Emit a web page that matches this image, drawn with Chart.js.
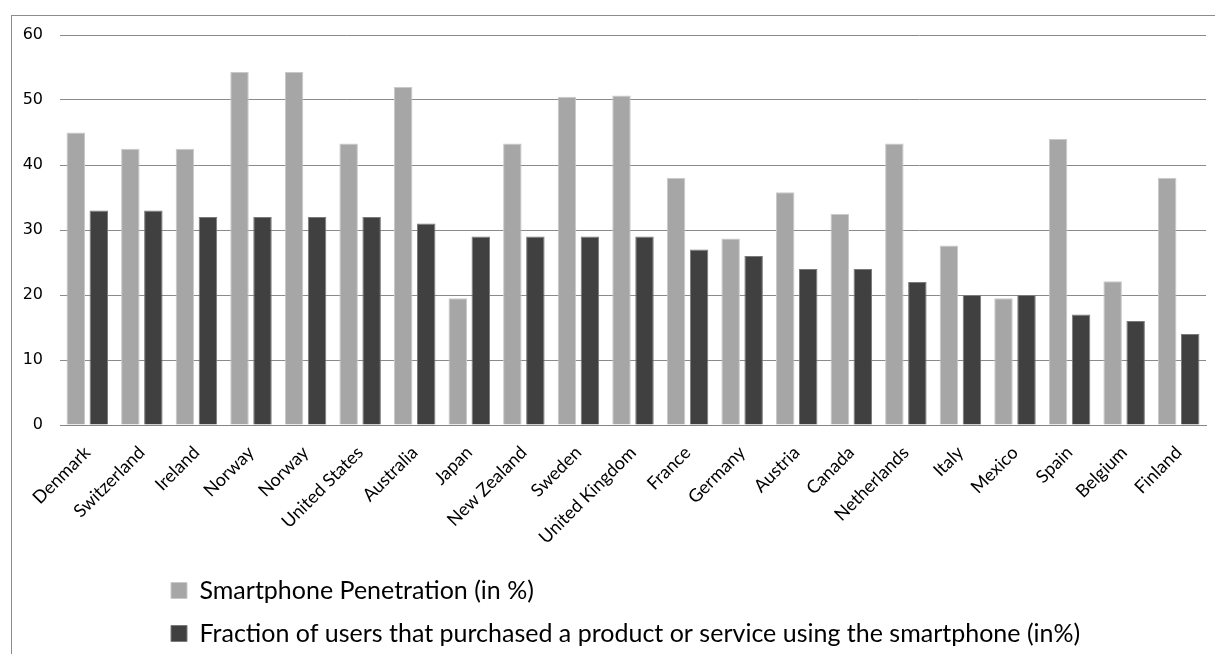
<!DOCTYPE html>
<html>
<head>
<meta charset="utf-8">
<script src="https://cdn.jsdelivr.net/npm/chart.js@4.4.1/dist/chart.umd.min.js"></script>
<style>
  html, body { margin: 0; padding: 0; background: #ffffff; overflow: hidden; }
  #wrap { position: relative; width: 1215px; height: 654px; }
  #frame { position: absolute; left: 11px; top: 15px; width: 1300px; height: 760px;
           border: 1px solid #8c8c8c; pointer-events: none; }
  canvas { position: absolute; left: 0; top: 0; }
</style>
</head>
<body>
<div id="wrap">
  <canvas id="chart" width="1215" height="654"></canvas>
  <div id="frame"></div>
</div>
<script>
// Countries along the category axis
const countries = ['Denmark', 'Switzerland', 'Ireland', 'Norway', 'Norway', 'United States', 'Australia',
  'Japan', 'New Zealand', 'Sweden', 'United Kingdom', 'France', 'Germany', 'Austria', 'Canada',
  'Netherlands', 'Italy', 'Mexico', 'Spain', 'Belgium', 'Finland'];

// Smartphone penetration (in %)
const penetration = [45, 42.5, 42.5, 54.3, 54.3, 43.3, 52, 19.5, 43.3, 50.5, 50.7, 38, 28.7, 35.8,
  32.5, 43.3, 27.6, 19.5, 44, 22.1, 38];

// Share of users who bought something with their smartphone (in %)
const purchased = [33, 33, 32, 32, 32, 32, 31, 29, 29, 29, 29, 27, 26, 24, 24, 22, 20, 20, 17, 16, 14];

const seriesNames = ['Smartphone Penetration (in %)',
  'Fraction of users that purchased a product or service using the smartphone (in%)'];

const yTicks = [0, 10, 20, 30, 40, 50, 60];

// Indent the legend block so both rows start at the same x, and nudge it down a little
const legendIndent = {
  id: 'legendIndent',
  afterLayout(chart) {
    if (chart.legend) {
      chart.legend.left += 153;
      chart.legend.top += 2;
    }
  }
};

new Chart(document.getElementById('chart'), {
  type: 'bar',
  data: {
    labels: countries,
    datasets: [
      { label: seriesNames[0], data: penetration, backgroundColor: '#a6a6a6',
        borderColor: '#c9c9c9', borderWidth: 1,
        categoryPercentage: 0.843, barPercentage: 0.804 },
      { label: seriesNames[1], data: purchased, backgroundColor: '#404040',
        borderColor: '#7a7a7a', borderWidth: 1,
        categoryPercentage: 0.843, barPercentage: 0.804 }
    ]
  },
  options: {
    responsive: false,
    animation: false,
    layout: { padding: { top: 35, right: 9, left: 0, bottom: 0 } },
    scales: {
      x: {
        grid: { display: false, drawTicks: false },
        border: { display: true, color: '#868686', width: 1 },
        ticks: {
          minRotation: 45, maxRotation: 45, autoSkip: false, padding: 17,
          color: '#000000', font: { family: 'Lato', size: 18 }
        },
        afterFit(scale) { scale.height = 133; }
      },
      y: {
        min: 0, max: 60,
        afterBuildTicks(scale) { scale.ticks = yTicks.map(v => ({ value: v })); },
        grid: { color: '#8a8a8a', lineWidth: 1, drawTicks: false },
        border: { display: false },
        ticks: { padding: 17, color: '#000000', font: { family: 'DejaVu Sans', size: 16 } },
        afterFit(scale) { scale.width = 60; }
      }
    },
    plugins: {
      legend: {
        position: 'bottom',
        align: 'start',
        labels: {
          boxWidth: 16, boxHeight: 16, padding: 18,
          color: '#000000', font: { family: 'Lato', size: 25 }
        }
      },
      tooltip: { enabled: false }
    }
  },
  plugins: [legendIndent]
});
</script>
</body>
</html>
